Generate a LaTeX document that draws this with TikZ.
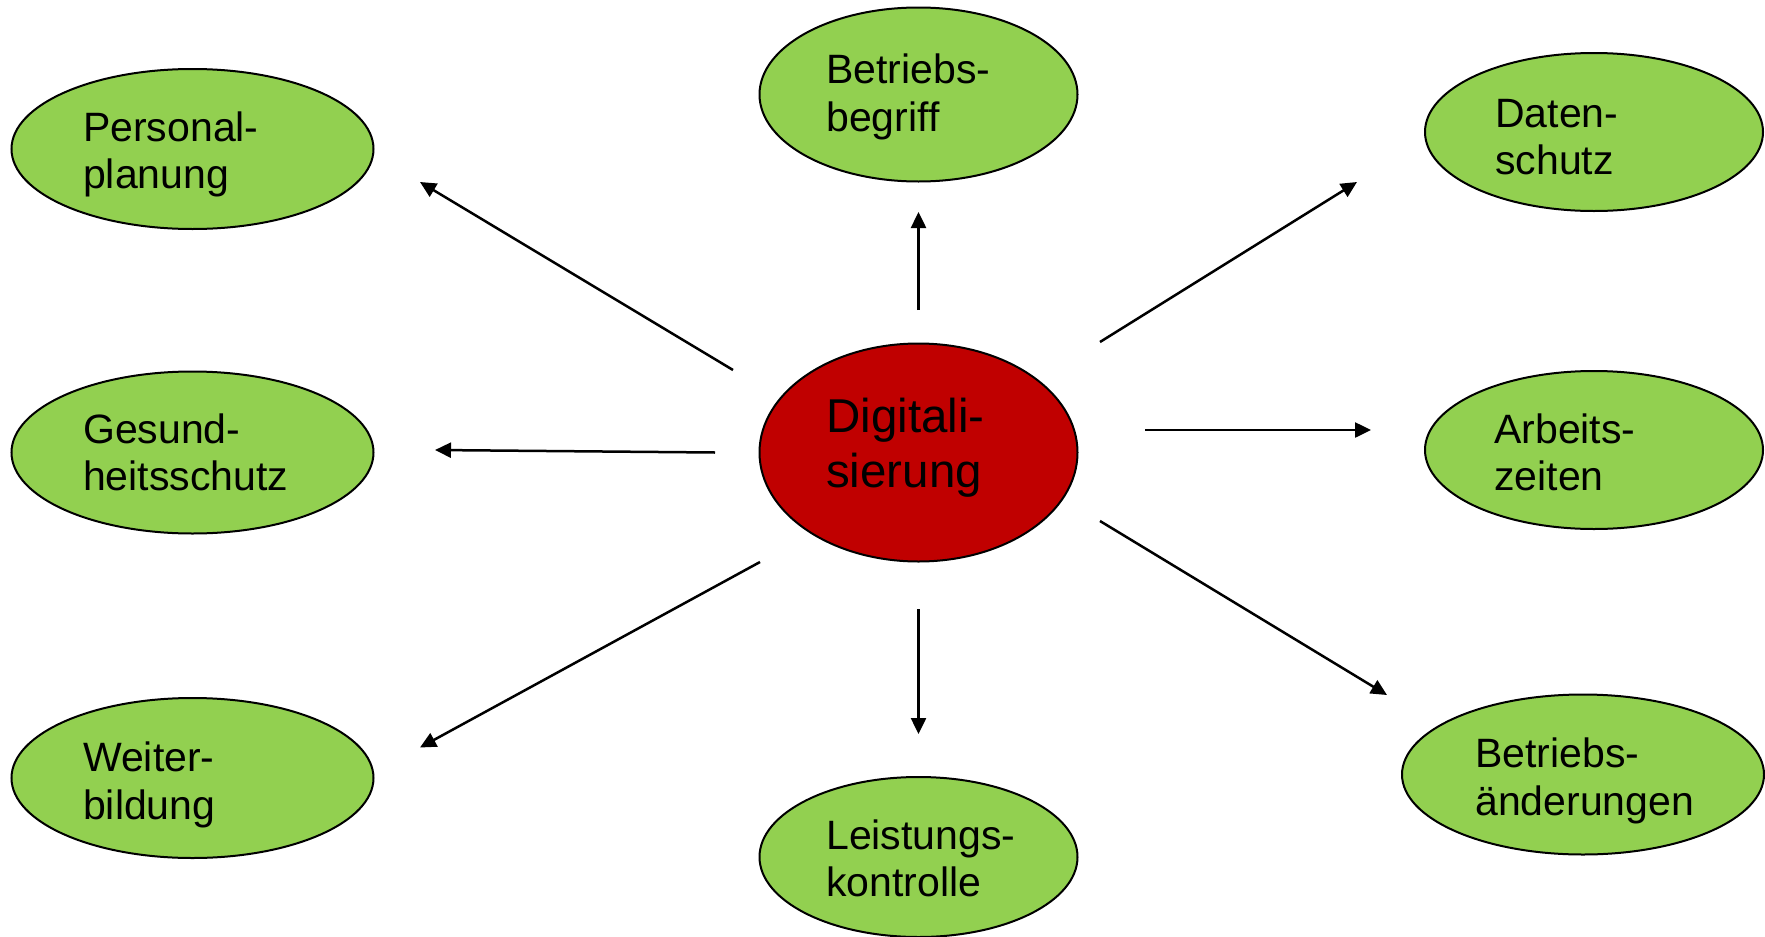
\documentclass[tikz,border=0pt]{standalone}
\usepackage{fontspec}
\setmainfont{Liberation Sans}
\usetikzlibrary{shapes.geometric,arrows.meta}
\definecolor{leafgreen}{HTML}{92D050}
\definecolor{darkred}{HTML}{C00000}
\newcommand{\myTopStrut}{\rule{0pt}{40pt}}
\newcommand{\myBigStrut}{\rule{0pt}{45pt}}
\begin{document}
\begin{tikzpicture}[x=1pt,y=-1pt,
  topic/.style={ellipse,draw=black,line width=2pt,fill=leafgreen,inner sep=0pt},
  hub/.style={ellipse,draw=black,line width=2pt,fill=darkred,inner sep=0pt},
  topictext/.style={anchor=north west,inner sep=0pt,align=left,
    font=\fontsize{41}{47.5}\selectfont},
  hubtext/.style={anchor=north west,inner sep=0pt,align=left,
    font=\fontsize{47.5}{55}\selectfont},
  link/.style={line width=2.5pt,-{Triangle[length=16pt,width=15pt]}}]
\useasboundingbox (0,0) rectangle (1765,937);
% ellipses
\node[hub,minimum width=318,minimum height=218] (dig) at (918.5,452.5) {};
\node[topic,minimum width=362,minimum height=160] (pers) at (192.5,149) {};
\node[topic,minimum width=318,minimum height=174] (bbeg) at (918.5,94.5) {};
\node[topic,minimum width=338,minimum height=158] (dat) at (1594,132) {};
\node[topic,minimum width=362,minimum height=162] (ges) at (192.5,452.5) {};
\node[topic,minimum width=338,minimum height=158] (arb) at (1594,450) {};
\node[topic,minimum width=362,minimum height=160] (weit) at (192.5,778) {};
\node[topic,minimum width=318,minimum height=160] (leist) at (918.5,857) {};
\node[topic,minimum width=362,minimum height=160] (bae) at (1583,774.5) {};
% texts
\node[hubtext] (dig-t) at (826,387) {\myBigStrut Digitali-\\sierung};
\node[topictext] (pers-t) at (83,101) {\myTopStrut Personal-\\planung};
\node[topictext] (bbeg-t) at (826,43.5) {\myTopStrut Betriebs-\\begriff};
\node[topictext] (dat-t) at (1495,87) {\myTopStrut Daten-\\schutz};
\node[topictext] (ges-t) at (83,403) {\myTopStrut Gesund-\\heitsschutz};
\node[topictext] (arb-t) at (1494,403) {\myTopStrut Arbeits-\\zeiten};
\node[topictext] (weit-t) at (83,731.5) {\myTopStrut Weiter-\\bildung};
\node[topictext] (leist-t) at (826,809) {\myTopStrut Leistungs-\\kontrolle};
\node[topictext] (bae-t) at (1475,727.5) {\myTopStrut Betriebs-\\änderungen};
% arrow ends
\coordinate (s1) at (733,370);   \coordinate (e1) at (420,182);
\coordinate (s2) at (918.5,310); \coordinate (e2) at (918.5,212);
\coordinate (s3) at (1100,342);  \coordinate (e3) at (1357,182);
\coordinate (s4) at (715,452.5); \coordinate (e4) at (435,450);
\coordinate (s5) at (1145,430);  \coordinate (e5) at (1371,430);
\coordinate (s6) at (760,562);   \coordinate (e6) at (420,747.5);
\coordinate (s7) at (918.5,609); \coordinate (e7) at (918.5,734);
\coordinate (s8) at (1100,521);  \coordinate (e8) at (1387,695);
\draw[link] (s1) -- (e1);
\draw[link] (s2) -- (e2);
\draw[link] (s3) -- (e3);
\draw[link] (s4) -- (e4);
\draw[link] (s5) -- (e5);
\draw[link] (s6) -- (e6);
\draw[link] (s7) -- (e7);
\draw[link] (s8) -- (e8);
\end{tikzpicture}
\end{document}
